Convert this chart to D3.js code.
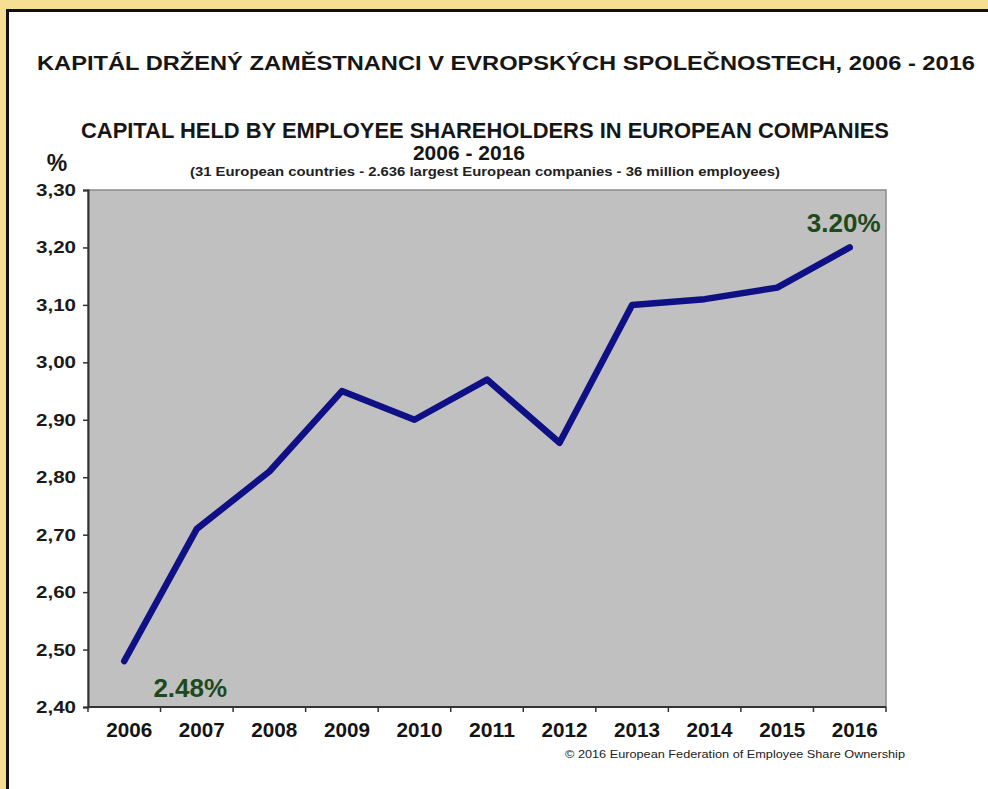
<!DOCTYPE html>
<html>
<head>
<meta charset="utf-8">
<script src="https://cdn.jsdelivr.net/npm/d3@7"></script>
<style>
  body { margin: 0; background: #f6df92; }
  text { font-family: "Liberation Sans", Arial, sans-serif; }
</style>
</head>
<body>
<div id="chart"></div>
<script>
// data
const years = ["2006", "2007", "2008", "2009", "2010", "2011", "2012", "2013", "2014", "2015", "2016"];
const capitalShare = [2.48, 2.71, 2.81, 2.95, 2.90, 2.97, 2.86, 3.10, 3.11, 3.13, 3.20];
const yTicks = [2.40, 2.50, 2.60, 2.70, 2.80, 2.90, 3.00, 3.10, 3.20, 3.30];
const callouts = [
    { year: "2006", value: 2.48, label: "2.48%" },
    { year: "2016", value: 3.20, label: "3.20%" }
];

const W = 988, H = 789;
const margin = { top: 190, right: 102, bottom: 82, left: 88 };
const width = W - margin.left - margin.right;
const height = H - margin.top - margin.bottom;

const svg = d3.select("#chart")
    .append("svg")
    .attr("width", W)
    .attr("height", H);

// yellow frame and white card
svg.append("rect")
    .attr("width", W).attr("height", H)
    .attr("fill", "#f6df92");
svg.append("rect")
    .attr("x", 7.5).attr("y", 10.5)
    .attr("width", 1000).attr("height", 800)
    .attr("fill", "#fff")
    .attr("stroke", "#111")
    .attr("stroke-width", 3);

// titles
svg.append("text")
    .attr("x", 37).attr("y", 70)
    .attr("textLength", 938)
    .attr("lengthAdjust", "spacingAndGlyphs")
    .style("font-size", "21px").style("font-weight", "bold")
    .attr("fill", "#161616")
    .text("KAPITÁL DRŽENÝ ZAMĚSTNANCI V EVROPSKÝCH SPOLEČNOSTECH,  2006 - 2016");

svg.append("text")
    .attr("x", 81).attr("y", 138)
    .attr("textLength", 808)
    .attr("lengthAdjust", "spacingAndGlyphs")
    .style("font-size", "22px").style("font-weight", "bold")
    .attr("fill", "#161616")
    .text("CAPITAL HELD BY EMPLOYEE SHAREHOLDERS IN EUROPEAN COMPANIES");

svg.append("text")
    .attr("x", 469).attr("y", 160)
    .attr("text-anchor", "middle")
    .style("font-size", "21px").style("font-weight", "bold")
    .attr("fill", "#161616")
    .text("2006 - 2016");

svg.append("text")
    .attr("x", 190).attr("y", 176)
    .attr("textLength", 590)
    .attr("lengthAdjust", "spacingAndGlyphs")
    .style("font-size", "12px").style("font-weight", "bold")
    .attr("fill", "#222")
    .text("(31 European countries - 2.636 largest European companies - 36 million employees)");

svg.append("text")
    .attr("x", 57).attr("y", 171)
    .attr("text-anchor", "middle")
    .style("font-size", "23px").style("font-weight", "bold")
    .attr("fill", "#161616")
    .text("%");

const g = svg.append("g")
    .attr("transform", "translate(" + margin.left + "," + margin.top + ")");

const x = d3.scaleBand()
    .domain(years)
    .range([0, width])
    .padding(0);

const y = d3.scaleLinear()
    .domain([2.4, 3.3])
    .range([height, 0]);

// plot area
g.append("rect")
    .attr("width", width).attr("height", height)
    .attr("fill", "#c0c0c0")
    .attr("stroke", "#8a8a8a")
    .attr("stroke-width", 1.5);

// y axis, comma as decimal mark
const commaFmt = d => d3.format(".2f")(d).replace(".", ",");
const yAxis = g.append("g")
    .call(d3.axisLeft(y).tickValues(yTicks).tickFormat(commaFmt).tickSize(5).tickPadding(7));
yAxis.select(".domain").attr("stroke", "#333").attr("stroke-width", 2);
yAxis.selectAll(".tick line").attr("stroke", "#333").attr("stroke-width", 1.5);
yAxis.selectAll("text")
    .attr("textLength", 40)
    .attr("lengthAdjust", "spacingAndGlyphs")
    .style("font-size", "17px").style("font-weight", "bold")
    .attr("fill", "#1a1a1a");

// x axis: ticks on band edges, labels on band centers
const xAxis = g.append("g")
    .attr("transform", "translate(0," + height + ")");
xAxis.append("line")
    .attr("x1", 0).attr("x2", width)
    .attr("stroke", "#333").attr("stroke-width", 2);
xAxis.selectAll(".edge")
    .data(years.concat(["end"]))
    .enter().append("line")
    .attr("class", "edge")
    .attr("x1", (d, i) => i * x.bandwidth())
    .attr("x2", (d, i) => i * x.bandwidth())
    .attr("y1", 0).attr("y2", 5)
    .attr("stroke", "#333").attr("stroke-width", 1.5);
xAxis.selectAll(".year")
    .data(years)
    .enter().append("text")
    .attr("class", "year")
    .attr("x", d => x(d) + x.bandwidth() / 2 + 5 - 23)
    .attr("y", 30)
    .attr("textLength", 46)
    .attr("lengthAdjust", "spacingAndGlyphs")
    .style("font-size", "20px").style("font-weight", "bold")
    .attr("fill", "#141414")
    .text(d => d);

// the line
const series = years.map((yr, i) => ({ year: yr, value: capitalShare[i] }));
const line = d3.line()
    .x(d => x(d.year) + x.bandwidth() / 2)
    .y(d => y(d.value));

g.append("path")
    .datum(series)
    .attr("d", line)
    .attr("fill", "none")
    .attr("stroke", "#0f0f86")
    .attr("stroke-width", 6.5)
    .attr("stroke-linecap", "round")
    .attr("stroke-linejoin", "round");

// green value callouts
g.selectAll(".callout")
    .data(callouts)
    .enter().append("text")
    .attr("class", "callout")
    .attr("x", (d, i) => x(d.year) + x.bandwidth() / 2 + (i === 0 ? 66 : -6))
    .attr("y", (d, i) => y(d.value) + (i === 0 ? 36 : -15))
    .attr("text-anchor", "middle")
    .style("font-size", "26px").style("font-weight", "bold")
    .attr("fill", "#1d4a1d")
    .text(d => d.label);

// source
svg.append("text")
    .attr("x", 565).attr("y", 758)
    .attr("textLength", 340)
    .attr("lengthAdjust", "spacingAndGlyphs")
    .style("font-size", "11px")
    .attr("fill", "#222")
    .text("©  2016  European Federation of Employee Share Ownership");
</script>
</body>
</html>
